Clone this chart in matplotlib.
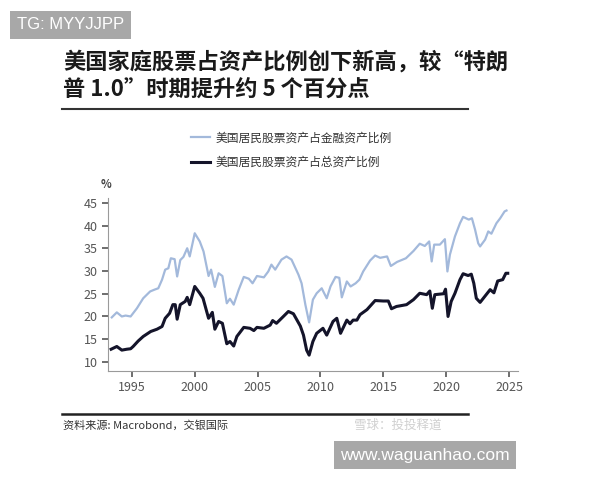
import matplotlib
matplotlib.use('Agg')
from matplotlib import pyplot as plt
from matplotlib.lines import Line2D

plt.rcParams['font.family'] = ['Noto Sans CJK SC', 'DejaVu Sans']

# 美国居民股票资产占金融资产比例 (%)
anios_fin = [1993.4, 1993.8, 1994.2, 1994.5, 1994.9, 1995.4, 1995.9, 1996.45, 1996.8, 1997.1,
             1997.4, 1997.65, 1997.9, 1998.1, 1998.4, 1998.6, 1998.85, 1999.1, 1999.4, 1999.6,
             2000.0, 2000.4, 2000.7, 2001.1, 2001.3, 2001.6, 2001.9, 2002.2, 2002.55, 2002.8,
             2003.1, 2003.5, 2003.9, 2004.3, 2004.6, 2004.95, 2005.5, 2005.85, 2006.1, 2006.4,
             2006.9, 2007.3, 2007.7, 2008.25, 2008.5, 2008.8, 2009.1, 2009.4, 2009.7, 2010.1,
             2010.5, 2010.8, 2011.2, 2011.5, 2011.7, 2012.1, 2012.4, 2012.8, 2013.1, 2013.4,
             2013.95, 2014.35, 2014.75, 2015.3, 2015.6, 2016.1, 2016.8, 2017.4, 2017.9, 2018.3,
             2018.65, 2018.85, 2019.05, 2019.5, 2019.9, 2020.1, 2020.3, 2020.7, 2021.1, 2021.35,
             2021.8, 2022.05, 2022.3, 2022.55, 2022.7, 2023.1, 2023.35, 2023.6, 2024.0, 2024.3,
             2024.65, 2024.8]
valores_fin = [19.8, 20.9, 20.0, 20.2, 20.0, 21.8, 24.0, 25.5, 25.9, 26.2,
               28.1, 30.3, 30.6, 32.8, 32.6, 28.8, 32.4, 33.1, 35.0, 33.2,
               38.3, 36.5, 34.3, 28.9, 30.3, 26.5, 29.5, 28.9, 22.9, 23.9,
               22.6, 25.9, 28.7, 28.3, 27.3, 28.9, 28.6, 29.9, 31.4, 30.3,
               32.5, 33.2, 32.5, 29.2, 27.3, 22.6, 18.7, 23.7, 25.1, 26.2,
               24.0, 26.6, 28.7, 28.5, 24.2, 27.7, 26.6, 27.3, 28.1, 29.9,
               32.3, 33.4, 32.9, 33.2, 31.1, 32.0, 32.8, 34.4, 36.0, 35.5,
               36.5, 32.1, 35.8, 35.8, 37.0, 29.9, 33.6, 37.6, 40.5, 41.9,
               41.3, 41.6, 39.1, 36.1, 35.4, 36.9, 38.7, 38.2, 40.5, 41.6,
               43.1, 43.3]

# 美国居民股票资产占总资产比例 (%)
anios_tot = [1993.35, 1993.8, 1994.2, 1994.6, 1994.9, 1995.1, 1995.5, 1995.9, 1996.5, 1997.0,
             1997.4, 1997.65, 1998.0, 1998.26, 1998.45, 1998.6, 1998.85, 1999.24, 1999.4, 1999.6,
             2000.0, 2000.4, 2000.66, 2001.1, 2001.4, 2001.6, 2001.9, 2002.2, 2002.55, 2002.8,
             2003.1, 2003.35, 2003.9, 2004.4, 2004.7, 2004.95, 2005.5, 2006.0, 2006.2, 2006.5,
             2007.05, 2007.45, 2007.85, 2008.4, 2008.65, 2008.9, 2009.1, 2009.4, 2009.7, 2010.2,
             2010.5, 2011.0, 2011.3, 2011.6, 2012.1, 2012.35, 2012.6, 2012.9, 2013.15, 2013.7,
             2014.35, 2015.0, 2015.4, 2015.65, 2016.05, 2016.85, 2017.4, 2017.9, 2018.45, 2018.7,
             2018.9, 2019.1, 2019.8, 2019.95, 2020.15, 2020.4, 2020.7, 2021.1, 2021.35, 2021.75,
             2022.0, 2022.2, 2022.4, 2022.7, 2023.1, 2023.5, 2023.8, 2024.1, 2024.5, 2024.75,
             2024.9]
valores_tot = [12.8, 13.4, 12.6, 12.8, 12.9, 13.4, 14.6, 15.6, 16.7, 17.2,
               17.8, 19.6, 20.7, 22.6, 22.6, 19.4, 22.6, 23.3, 24.2, 22.6,
               26.6, 25.1, 24.0, 19.6, 20.9, 17.2, 18.9, 18.5, 14.0, 14.5,
               13.5, 15.6, 17.6, 17.4, 16.9, 17.6, 17.4, 18.1, 19.1, 18.5,
               20.0, 21.1, 20.6, 17.9, 15.9, 12.6, 11.5, 14.5, 16.3, 17.4,
               15.9, 18.9, 19.6, 16.3, 19.2, 18.4, 19.2, 19.2, 20.4, 21.5,
               23.5, 23.4, 23.4, 21.7, 22.2, 22.6, 23.7, 25.1, 24.8, 25.6,
               21.8, 24.8, 25.0, 26.0, 20.0, 23.3, 25.1, 28.1, 29.4, 29.0,
               29.3, 27.3, 24.0, 23.1, 24.5, 25.9, 25.2, 27.8, 28.1, 29.5,
               29.5]

ticks_x = [1995, 2000, 2005, 2010, 2015, 2020, 2025]
ticks_y = [10, 15, 20, 25, 30, 35, 40, 45]
nombres = ['美国居民股票资产占金融资产比例', '美国居民股票资产占总资产比例']
colores = ['#a3b9db', '#14142a']

fig = plt.figure(figsize=(6, 4.8), dpi=100)
fig.patch.set_facecolor('white')

ax = fig.add_axes([0.18, 0.227, 0.683, 0.36])
ax.plot(anios_fin, valores_fin, color=colores[0], lw=1.6)
ax.plot(anios_tot, valores_tot, color=colores[1], lw=2.2)
ax.set_xlim(1993.1, 2025.7)
ax.set_ylim(8, 46)
ax.set_xticks(ticks_x)
ax.set_yticks(ticks_y)
for s in ['top', 'right']:
    ax.spines[s].set_visible(False)
for s in ['left', 'bottom']:
    ax.spines[s].set_color('#9a9a9a')
ax.tick_params(axis='both', direction='out', length=4, width=1.2, color='#555555',
               labelcolor='#555555', labelsize=9)
ax.text(-0.005, 1.06, '%', transform=ax.transAxes, fontsize=8, color='#444444',
        fontweight='bold', ha='center')

# leyenda
manejadores = [Line2D([0], [0], color=colores[0], lw=1.6),
               Line2D([0], [0], color=colores[1], lw=2.2)]
fig.legend(manejadores, nombres, loc='upper left', bbox_to_anchor=(0.3, 0.748),
           frameon=False, fontsize=8.5, handlelength=1.6, handletextpad=0.5,
           labelspacing=0.95, labelcolor='#333333')

# titulo
fig.text(0.105, 0.871, '美国家庭股票占资产比例创下新高，较“特朗', fontsize=16,
         fontweight='bold', color='#1a1a1a', va='center')
fig.text(0.105, 0.812, '普 1.0”时期提升约 5 个百分点', fontsize=16,
         fontweight='bold', color='#1a1a1a', va='center')
fig.add_artist(Line2D([0.104, 0.78], [0.773, 0.773], color='#333333', lw=1.5))
fig.add_artist(Line2D([0.104, 0.78], [0.138, 0.138], color='#222222', lw=1.8))

fig.text(0.105, 0.113, '资料来源: Macrobond，交银国际', fontsize=8, style='italic',
         color='#333333', va='center')
fig.text(0.59, 0.113, '雪球：投投释道', fontsize=9, color='#d0d0d0', va='center')

# marcas de agua
fig.text(0.028, 0.948, 'TG: MYYJJPP', fontsize=12, color='white', va='center',
         family=['Liberation Sans', 'DejaVu Sans'],
         bbox=dict(facecolor='#a8a8a8', edgecolor='none', boxstyle='square,pad=0.4'))
fig.text(0.567, 0.052, 'www.waguanhao.com', fontsize=12.5, color='white', va='center',
         family=['Liberation Sans', 'DejaVu Sans'],
         bbox=dict(facecolor='#a8a8a8', edgecolor='none', boxstyle='square,pad=0.35'))

fig.savefig('out.png', dpi=100)
